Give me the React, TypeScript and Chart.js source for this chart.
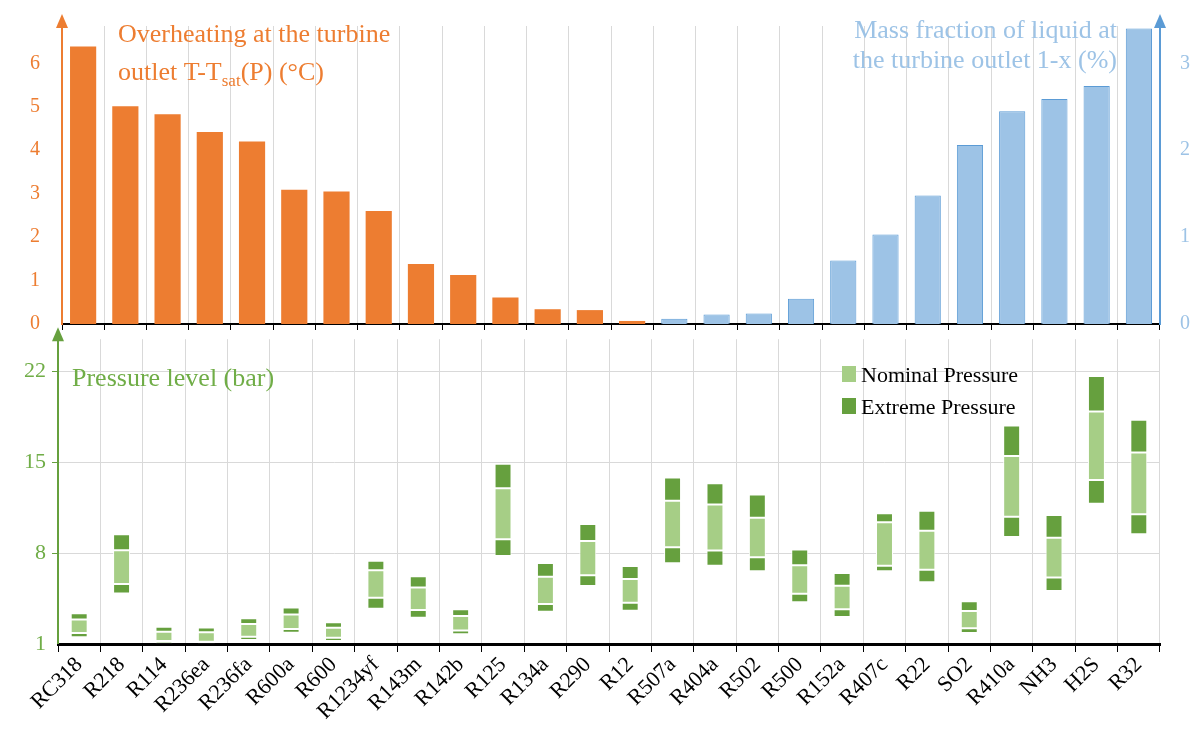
import React, { useEffect, useRef } from 'react';
import { Chart, registerables } from 'chart.js';

Chart.register(...registerables);

const refrigerants = ['RC318', 'R218', 'R114', 'R236ea', 'R236fa', 'R600a', 'R600', 'R1234yf', 'R143m', 'R142b', 'R125', 'R134a', 'R290', 'R12', 'R507a', 'R404a', 'R502', 'R500', 'R152a', 'R407c', 'R22', 'SO2', 'R410a', 'NH3', 'H2S', 'R32'];

// overheating (°C), left axis - first 14 fluids
const overheating = [6.39, 5.01, 4.83, 4.42, 4.2, 3.09, 3.05, 2.6, 1.38, 1.13, 0.61, 0.34, 0.32, 0.07, null, null, null, null, null, null, null, null, null, null, null, null];
// liquid fraction 1-x (%), right axis - remaining fluids
const liquidFraction = [null, null, null, null, null, null, null, null, null, null, null, null, null, null, 0.06, 0.11, 0.12, 0.29, 0.73, 1.03, 1.48, 2.06, 2.45, 2.59, 2.74, 3.4];

// pressure levels (bar)
const extremeMin = [1.52, 4.9, 1.05, 1.05, 1.31, 1.87, 1.23, 3.72, 3.02, 1.75, 7.79, 3.48, 5.48, 3.57, 7.22, 7.04, 6.6, 4.21, 3.08, 6.6, 5.76, 1.85, 9.25, 5.09, 11.82, 9.46];
const nominalMin = [1.84, 5.62, 1.23, 1.18, 1.56, 2.15, 1.48, 4.56, 3.62, 2.05, 9.08, 4.08, 6.31, 4.19, 8.46, 8.2, 7.68, 4.88, 3.67, 7.04, 6.73, 2.21, 10.82, 6.12, 13.65, 11.0];
const nominalMax = [2.88, 8.23, 1.95, 1.9, 2.54, 3.28, 2.25, 6.69, 5.36, 3.15, 13.0, 6.18, 8.95, 6.01, 12.05, 11.75, 10.74, 7.07, 5.5, 10.38, 9.74, 3.54, 15.5, 9.2, 18.92, 15.76];
const extremeMax = [3.37, 9.46, 2.33, 2.28, 2.98, 3.82, 2.67, 7.41, 6.23, 3.67, 14.9, 7.25, 10.25, 7.02, 13.83, 13.39, 12.52, 8.28, 6.48, 11.08, 11.28, 4.29, 17.84, 10.95, 21.67, 18.28];

const pressureTicks = [1, 8, 15, 22];

const FONT = '"Liberation Serif", "DejaVu Serif", serif';
const ORANGE = '#ED7D31';
const BLUE = '#9DC3E6';
const BLUE_DARK = '#5B9BD5';
const GREEN_LIGHT = '#A6CE86';
const GREEN = '#66A03E';
const GRID = '#D9D9D9';

const arrow = (ctx: CanvasRenderingContext2D, x: number, y: number, color: string) => {
    ctx.fillStyle = color;
    ctx.beginPath();
    ctx.moveTo(x, y - 12);
    ctx.lineTo(x - 6, y + 2);
    ctx.lineTo(x + 6, y + 2);
    ctx.closePath();
    ctx.fill();
};

const TopChart: React.FC = () => {
    const ref = useRef<HTMLCanvasElement>(null);
    useEffect(() => {
        if (!ref.current) return;
        const decor = {
            id: 'decorTop',
            afterDraw(chart: Chart) {
                const { ctx, chartArea } = chart;
                ctx.save();
                arrow(ctx, chartArea.left, chartArea.top, ORANGE);
                arrow(ctx, chartArea.right, chartArea.top, BLUE_DARK);
                ctx.font = `26px ${FONT}`;
                ctx.textBaseline = 'alphabetic';
                ctx.fillStyle = ORANGE;
                ctx.textAlign = 'left';
                ctx.fillText('Overheating at the turbine', 118, 42);
                let x = 118;
                const parts: Array<[string, number, number]> = [['outlet T-T', 26, 80], ['sat', 17, 86], ['(P) (°C)', 26, 80]];
                for (const [t, s, y] of parts) {
                    ctx.font = `${s}px ${FONT}`;
                    ctx.fillText(t, x, y);
                    x += ctx.measureText(t).width;
                }
                ctx.font = `26px ${FONT}`;
                ctx.fillStyle = BLUE;
                ctx.textAlign = 'right';
                ctx.fillText('Mass fraction of liquid at', 1117, 38);
                ctx.fillText('the turbine outlet 1-x (%)', 1117, 68);
                ctx.restore();
            }
        };
        const chart = new Chart(ref.current, {
            type: 'bar',
            data: {
                labels: refrigerants,
                datasets: [
                    { data: overheating, backgroundColor: ORANGE, yAxisID: 'y', grouped: false, barPercentage: 0.62, categoryPercentage: 1 },
                    { data: liquidFraction, backgroundColor: BLUE, borderColor: BLUE_DARK, borderWidth: 1, yAxisID: 'y1', grouped: false, barPercentage: 0.62, categoryPercentage: 1 }
                ]
            },
            options: {
                responsive: false,
                animation: false,
                layout: { padding: { top: 16, right: 0, left: 0, bottom: 0 } },
                plugins: { legend: { display: false }, tooltip: { enabled: false } },
                scales: {
                    x: {
                        offset: true,
                        grid: { offset: true, color: GRID, tickColor: '#000', tickLength: 6 },
                        border: { color: '#000', width: 2 },
                        ticks: { display: false },
                        afterFit: (s: any) => { s.height = 6; }
                    },
                    y: {
                        min: 0, max: 6.86,
                        afterBuildTicks: (s: any) => { s.ticks = [0, 1, 2, 3, 4, 5, 6].map(v => ({ value: v })); },
                        grid: { display: false },
                        border: { color: ORANGE, width: 2 },
                        ticks: { color: ORANGE, font: { family: FONT, size: 20 }, padding: 14 },
                        afterFit: (s: any) => { s.width = 62; }
                    },
                    y1: {
                        position: 'right',
                        min: 0, max: 3.43,
                        afterBuildTicks: (s: any) => { s.ticks = [0, 1, 2, 3].map(v => ({ value: v })); },
                        grid: { display: false },
                        border: { color: BLUE_DARK, width: 2 },
                        ticks: { color: BLUE, font: { family: FONT, size: 20 }, padding: 12 },
                        afterFit: (s: any) => { s.width = 39; }
                    }
                }
            },
            plugins: [decor]
        });
        return () => chart.destroy();
    }, []);
    return <canvas ref={ref} width={1199} height={350} style={{ display: 'block' }} />;
};

const BottomChart: React.FC = () => {
    const ref = useRef<HTMLCanvasElement>(null);
    useEffect(() => {
        if (!ref.current) return;
        const decor = {
            id: 'decorBottom',
            afterDraw(chart: Chart) {
                const { ctx, chartArea } = chart;
                ctx.save();
                arrow(ctx, chartArea.left, chartArea.top, GREEN);
                ctx.font = `26px ${FONT}`;
                ctx.fillStyle = '#70AD47';
                ctx.textAlign = 'left';
                ctx.fillText('Pressure level (bar)', 72, 66);
                ctx.fillStyle = GREEN_LIGHT;
                ctx.fillRect(842, 46, 14, 16);
                ctx.fillStyle = GREEN;
                ctx.fillRect(842, 78, 14, 16);
                ctx.font = `22px ${FONT}`;
                ctx.fillStyle = '#000';
                ctx.fillText('Nominal Pressure', 861, 62);
                ctx.fillText('Extreme Pressure', 861, 94);
                ctx.restore();
            }
        };
        const common = { grouped: false, barPercentage: 0.4, categoryPercentage: 1, borderColor: '#fff', borderWidth: 1, borderSkipped: false };
        const chart = new Chart(ref.current, {
            type: 'bar',
            data: {
                labels: refrigerants,
                datasets: [
                    { ...common, data: refrigerants.map((_, i) => [extremeMin[i], nominalMin[i]]), backgroundColor: GREEN },
                    { ...common, data: refrigerants.map((_, i) => [nominalMin[i], nominalMax[i]]), backgroundColor: GREEN_LIGHT },
                    { ...common, data: refrigerants.map((_, i) => [nominalMax[i], extremeMax[i]]), backgroundColor: GREEN }
                ] as any
            },
            options: {
                responsive: false,
                animation: false,
                layout: { padding: { top: 0, right: 39, left: 0, bottom: 0 } },
                plugins: { legend: { display: false }, tooltip: { enabled: false } },
                scales: {
                    x: {
                        offset: true,
                        grid: { offset: true, color: GRID, tickColor: '#000', tickLength: 8 },
                        border: { color: '#000', width: 3 },
                        ticks: { color: '#000', font: { family: FONT, size: 22 }, minRotation: 45, maxRotation: 45, padding: 0, autoSkip: false },
                        afterFit: (s: any) => { s.height = 91; }
                    },
                    y: {
                        min: 1, max: 24.5,
                        afterBuildTicks: (s: any) => { s.ticks = pressureTicks.map(v => ({ value: v })); },
                        grid: { color: GRID, tickColor: GREEN, tickLength: 6, lineWidth: (c: any) => (c.tick && c.tick.value === 1 ? 0 : 1) },
                        border: { color: GREEN, width: 2 },
                        ticks: { color: '#70AD47', font: { family: FONT, size: 22 }, padding: 6 },
                        afterFit: (s: any) => { s.width = 58; }
                    }
                }
            },
            plugins: [decor]
        });
        return () => chart.destroy();
    }, []);
    return <canvas ref={ref} width={1199} height={415} style={{ display: 'block', marginTop: -30 }} />;
};

export default function App() {
    return (
        <div style={{ position: 'absolute', left: 0, top: 0, width: 1199, height: 735, background: '#fff' }}>
            <TopChart />
            <BottomChart />
        </div>
    );
}
